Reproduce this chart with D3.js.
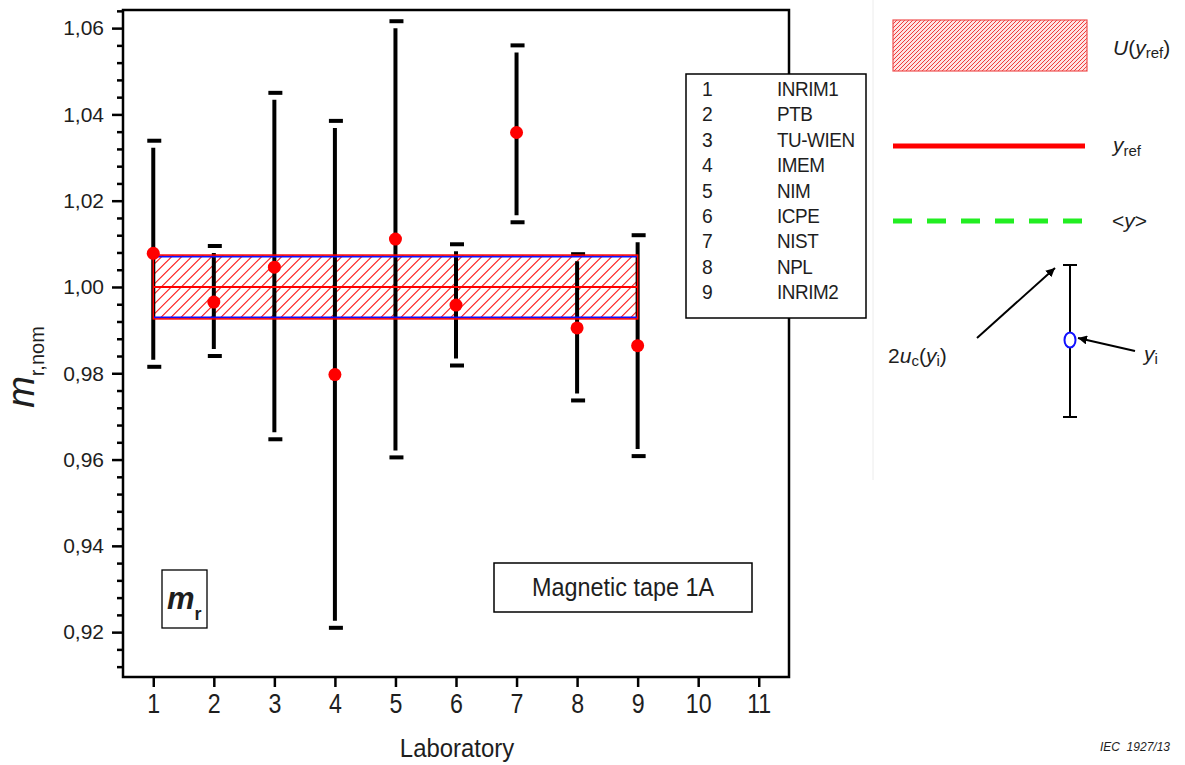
<!DOCTYPE html>
<html><head><meta charset="utf-8">
<script src="https://cdn.jsdelivr.net/npm/d3@7"></script>
<style>
body{margin:0;background:#fff;}
text{font-family:"Liberation Sans",Arial,sans-serif;fill:#1e1e1e;}
</style></head>
<body><svg id="c" width="1185" height="765"></svg>
<script>
const labs = [1,2,3,4,5,6,7,8,9];
const labNames = ["INRIM1","PTB","TU-WIEN","IMEM","NIM","ICPE","NIST","NPL","INRIM2"];
const values = [1.0078,0.9965,1.0046,0.9797,1.0111,0.9958,1.0358,0.9905,0.9864];
const upper  = [1.0339,1.0095,1.0450,1.0385,1.0616,1.0099,1.0560,1.0076,1.0120];
const lower  = [0.9815,0.9840,0.9647,0.9210,0.9605,0.9818,1.0150,0.9737,0.9608];
const yRef = 1.0000;
const uRef = 0.0074;
const refSpan = [1, 9];
const xTicks = [1,2,3,4,5,6,7,8,9,10,11];
const yTicks = [0.92,0.94,0.96,0.98,1.00,1.02,1.04,1.06];

const svg = d3.select("#c");
const L=123,R=789,T=10,B=677;
const x = d3.scaleLinear().domain([0.5,11.5]).range([L,R]);
const y = d3.scaleLinear().domain([0.9096,1.0642]).range([B,T]);

const defs = svg.append("defs");

function hatchRect(parent, id, x0, y0, w, h, step, color, sw){
  defs.append("clipPath").attr("id",id).append("rect").attr("x",x0).attr("y",y0).attr("width",w).attr("height",h);
  const g = parent.append("g").attr("clip-path",`url(#${id})`);
  const offs = d3.range(0, w + h + step, step);
  g.selectAll("line").data(offs).join("line")
    .attr("x1",d=>x0 + d - h).attr("y1",y0 + h)
    .attr("x2",d=>x0 + d).attr("y2",y0)
    .attr("stroke",color).attr("stroke-width",sw);
  return g;
}

// reference band
const bx0=x(refSpan[0]), bx1=x(refSpan[1]);
const by0=y(yRef+uRef), by1=y(yRef-uRef);
hatchRect(svg,"bandclip",bx0,by0,bx1-bx0,by1-by0,10,"#ff1a1a",1.1);

// error bars
const g = svg.append("g");
labs.forEach((d,i)=>{
  const cx = x(d);
  g.append("line").attr("x1",cx).attr("x2",cx).attr("y1",y(upper[i])+7).attr("y2",y(lower[i])-7)
    .attr("stroke","#000").attr("stroke-width",4);
  [upper[i],lower[i]].forEach(v=>{
    g.append("rect").attr("x",cx-6).attr("y",y(v)-2).attr("width",14).attr("height",4).attr("fill","#000");
  });
});

// band borders
svg.append("line").attr("x1",bx0).attr("x2",bx1).attr("y1",by0+1.5).attr("y2",by0+1.5).attr("stroke","#1010ff").attr("stroke-width",2);
svg.append("line").attr("x1",bx0).attr("x2",bx1).attr("y1",by1-1.5).attr("y2",by1-1.5).attr("stroke","#1010ff").attr("stroke-width",2);
svg.append("rect").attr("x",bx0).attr("y",by0).attr("width",bx1-bx0)
  .attr("height",by1-by0).attr("fill","none").attr("stroke","#ff0000").attr("stroke-width",1.5);
svg.append("line").attr("x1",bx0).attr("x2",bx1).attr("y1",y(yRef)).attr("y2",y(yRef)).attr("stroke","#ff0000").attr("stroke-width",2);

// points
svg.append("g").selectAll("circle").data(labs).join("circle")
  .attr("cx",d=>x(d)).attr("cy",(d,i)=>y(values[i])).attr("r",6.5).attr("fill","#ff0000");

// frame
svg.append("rect").attr("x",L).attr("y",T).attr("width",R-L).attr("height",B-T)
  .attr("fill","none").attr("stroke","#000").attr("stroke-width",2.5);

// axes
const yAxis = d3.axisLeft(y).tickValues(yTicks).tickSize(11).tickPadding(8)
  .tickFormat(d=>d3.format(".2f")(d).replace(".",","));
const ya = svg.append("g").attr("transform",`translate(${L},0)`).call(yAxis);
ya.select(".domain").remove();
ya.selectAll(".tick line").attr("stroke","#000").attr("stroke-width",2.5);
ya.selectAll(".tick text").attr("font-size",21).attr("fill","#1e1e1e").style("font-family","Liberation Sans, Arial");
const minor = d3.range(0.912,1.0641,0.004).filter(v=>!yTicks.some(t=>Math.abs(t-v)<1e-6));
const ym = d3.axisLeft(y).tickValues(minor).tickSize(6).tickFormat("");
const ymg = svg.append("g").attr("transform",`translate(${L},0)`).call(ym);
ymg.select(".domain").remove();
ymg.selectAll(".tick line").attr("stroke","#000").attr("stroke-width",2.5);

const xAxis = d3.axisBottom(x).tickValues(xTicks).tickSize(10).tickPadding(7).tickFormat(d3.format("d"));
const xa = svg.append("g").attr("transform",`translate(0,${B})`).call(xAxis);
xa.select(".domain").remove();
xa.selectAll(".tick line").attr("stroke","#000").attr("stroke-width",2.5);
xa.selectAll(".tick text").attr("font-size",27).attr("fill","#1e1e1e").attr("transform","scale(0.86,1)")
  .style("font-family","Liberation Sans, Arial");

svg.append("text").attr("transform","translate(457,757) scale(0.92,1)").attr("text-anchor","middle").attr("font-size",26).text("Laboratory");

// y title
const yt = svg.append("text").attr("transform","translate(34,367) rotate(-90)").attr("text-anchor","middle");
yt.append("tspan").attr("font-style","italic").attr("font-size",38).text("m");
yt.append("tspan").attr("font-size",20).attr("dy",10).text("r,nom");

// mr box
svg.append("rect").attr("x",162).attr("y",570).attr("width",45).attr("height",58).attr("fill","none").attr("stroke","#000").attr("stroke-width",1.3);
const mt = svg.append("text").attr("x",167).attr("y",609);
mt.append("tspan").attr("font-style","italic").attr("font-weight","bold").attr("font-size",31).text("m");
mt.append("tspan").attr("font-weight","bold").attr("font-size",18).attr("dy",11).text("r");

// tape box
svg.append("rect").attr("x",494).attr("y",563).attr("width",258).attr("height",49).attr("fill","#fff").attr("stroke","#000").attr("stroke-width",1.5);
svg.append("text").attr("transform","translate(623,596) scale(0.9,1)").attr("text-anchor","middle").attr("font-size",26).text("Magnetic tape 1A");

// lab legend
svg.append("rect").attr("x",686).attr("y",74).attr("width",180).attr("height",244).attr("fill","#fff").attr("stroke","#000").attr("stroke-width",1.5);
labs.forEach((d,i)=>{
  svg.append("text").attr("transform",`translate(702,${96+i*25.4}) scale(0.92,1)`).attr("font-size",21).text(d);
  svg.append("text").attr("transform",`translate(777,${96+i*25.4}) scale(0.9,1)`).attr("font-size",21).attr("letter-spacing",-0.5).text(labNames[i]);
});

// right-side key
svg.append("line").attr("x1",873).attr("x2",873).attr("y1",0).attr("y2",480).attr("stroke","#ececec").attr("stroke-width",1);
svg.append("rect").attr("x",893).attr("y",20).attr("width",194).attr("height",51).attr("fill","#fde3e3");
hatchRect(svg,"keyclip",893,20,194,51,4,"#f03c3c",1);
svg.append("rect").attr("x",893).attr("y",20).attr("width",194).attr("height",51).attr("fill","none").attr("stroke","#f05050").attr("stroke-width",1.2);
const u = svg.append("text").attr("x",1113).attr("y",55).attr("font-size",21);
u.append("tspan").attr("font-style","italic").text("U");
u.append("tspan").text("(");
u.append("tspan").attr("font-style","italic").text("y");
u.append("tspan").attr("font-size",15).attr("dy",3).text("ref");
u.append("tspan").attr("dy",-3).text(")");

svg.append("line").attr("x1",893).attr("x2",1085).attr("y1",146).attr("y2",146).attr("stroke","#ff0000").attr("stroke-width",5);
const yr = svg.append("text").attr("x",1113).attr("y",152).attr("font-size",21);
yr.append("tspan").attr("font-style","italic").text("y");
yr.append("tspan").attr("font-size",15).attr("dy",4).text("ref");

svg.append("line").attr("x1",893).attr("x2",1083).attr("y1",221).attr("y2",221).attr("stroke","#22ee22").attr("stroke-width",5).attr("stroke-dasharray","19,15");
const ym2 = svg.append("text").attr("x",1112).attr("y",228).attr("font-size",21);
ym2.append("tspan").text("<");
ym2.append("tspan").attr("font-style","italic").text("y");
ym2.append("tspan").text(">");

// error-bar key
defs.append("marker").attr("id","arr").attr("viewBox","0 0 10 10").attr("refX",10).attr("refY",5)
  .attr("markerWidth",9).attr("markerHeight",9).attr("markerUnits","userSpaceOnUse").attr("orient","auto")
  .append("path").attr("d","M0,0 L10,5 L0,10 z").attr("fill","#000");
const kx=1070;
svg.append("line").attr("x1",kx).attr("x2",kx).attr("y1",265).attr("y2",417).attr("stroke","#000").attr("stroke-width",2);
svg.append("line").attr("x1",kx-7).attr("x2",kx+7).attr("y1",265).attr("y2",265).attr("stroke","#000").attr("stroke-width",2);
svg.append("line").attr("x1",kx-7).attr("x2",kx+7).attr("y1",417).attr("y2",417).attr("stroke","#000").attr("stroke-width",2);
svg.append("ellipse").attr("cx",kx).attr("cy",340).attr("rx",5.5).attr("ry",7.5).attr("fill","#fff").attr("stroke","#1010ff").attr("stroke-width",2);
svg.append("line").attr("x1",977).attr("y1",338).attr("x2",1055).attr("y2",268).attr("stroke","#000").attr("stroke-width",2).attr("marker-end","url(#arr)");
svg.append("line").attr("x1",1135).attr("y1",351).attr("x2",1078).attr("y2",338).attr("stroke","#000").attr("stroke-width",2).attr("marker-end","url(#arr)");
const uc = svg.append("text").attr("x",888).attr("y",363).attr("font-size",21);
uc.append("tspan").text("2");
uc.append("tspan").attr("font-style","italic").text("u");
uc.append("tspan").attr("font-size",15).attr("dy",3).text("c");
uc.append("tspan").attr("dy",-3).text("(");
uc.append("tspan").attr("font-style","italic").text("y");
uc.append("tspan").attr("font-size",15).attr("dy",3).text("i");
uc.append("tspan").attr("dy",-3).text(")");
const yi = svg.append("text").attr("x",1144).attr("y",361).attr("font-size",21);
yi.append("tspan").attr("font-style","italic").text("y");
yi.append("tspan").attr("font-size",15).attr("dy",3).text("i");

svg.append("text").attr("x",1170).attr("y",751).attr("text-anchor","end").attr("font-size",12).attr("font-style","italic").attr("xml:space","preserve").text("IEC  1927/13");
</script></body></html>
